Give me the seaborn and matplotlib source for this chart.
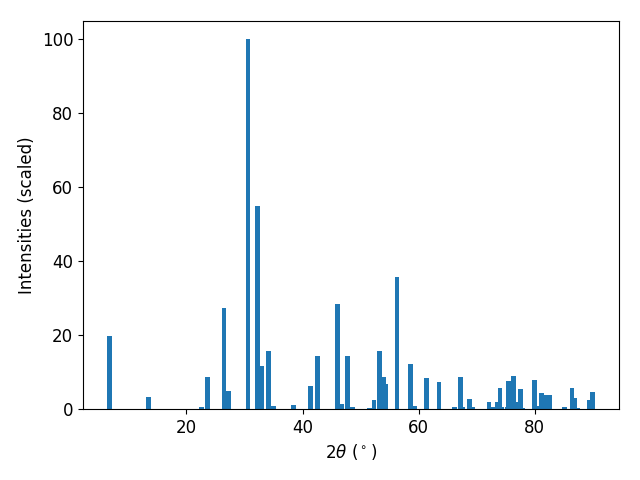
import matplotlib
matplotlib.use("Agg")
import matplotlib.pyplot as plt
import seaborn as sns

# peak positions (2 theta, degrees) and scaled intensities
two_theta = [6.8, 13.5, 22.6, 23.6, 26.5, 27.3, 30.6, 32.2, 32.9, 34.2, 35.0,
             38.4, 41.4, 42.6, 46.0, 46.7, 47.7, 48.3, 48.7, 51.5, 52.3, 53.3,
             54.0, 54.3, 56.3, 58.6, 59.4, 61.3, 63.5, 66.2, 67.2, 67.6, 68.7,
             69.3, 72.1, 72.5, 73.3, 73.6, 74.0, 74.3, 75.2, 75.5, 76.3, 76.8,
             77.5, 77.9, 79.9, 80.5, 81.1, 81.8, 82.6, 85.1, 86.4, 86.8, 87.3,
             89.3, 89.9]
intensity = [19.8, 3.2, 0.5, 8.7, 27.4, 4.9, 100.0, 55.0, 11.6, 15.7, 0.8,
             1.1, 6.2, 14.4, 28.5, 1.4, 14.4, 0.5, 0.5, 0.3, 2.4, 15.7,
             8.7, 6.8, 35.8, 12.2, 0.8, 8.4, 7.3, 0.5, 8.7, 0.5, 2.7,
             0.5, 1.9, 0.5, 0.5, 1.9, 5.7, 0.5, 0.5, 7.6, 8.9, 1.9,
             5.4, 0.2, 7.9, 0.8, 4.3, 3.8, 3.8, 0.5, 5.7, 3.0, 0.2,
             2.4, 4.6]

plt.rcParams["font.size"] = 12
color = sns.color_palette("tab10")[0]

fig, ax = plt.subplots(figsize=(6.4, 4.8), dpi=100)
ax.bar(two_theta, intensity, width=0.8, color=color)
ax.set_xlabel(r"$2\theta$ ($^\circ$)")
ax.set_ylabel("Intensities (scaled)")
fig.subplots_adjust(left=83 / 640, right=619 / 640, top=1 - 21 / 480, bottom=1 - 409 / 480)
plt.savefig("out.png")
